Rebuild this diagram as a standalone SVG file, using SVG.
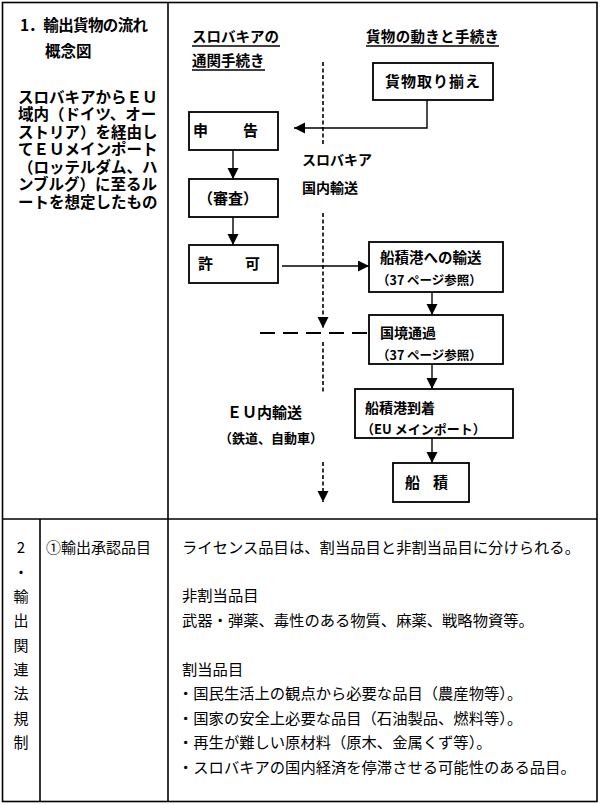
<svg xmlns="http://www.w3.org/2000/svg" width="600" height="805" viewBox="0 0 600 805">
<defs>
<marker id="ah" markerUnits="userSpaceOnUse" markerWidth="12" markerHeight="12" refX="11" refY="5.5" orient="auto">
<path d="M0,0 L11,5.5 L0,11 Z" fill="#000"/>
</marker>
</defs>
<style>
text{font-family:"Noto Sans CJK JP","Noto Sans",sans-serif;fill:#000}
.b{font-weight:bold}
.box{fill:#fff;stroke:#000;stroke-width:1.8}
.grid{fill:none;stroke:#000;stroke-width:1.6}
.con{fill:none;stroke:#000;stroke-width:1.4}
.dash{fill:none;stroke:#000;stroke-width:1.6;stroke-dasharray:4 2.5}
.ldash{fill:none;stroke:#000;stroke-width:1.8;stroke-dasharray:15 8}
.ul{stroke:#000;stroke-width:1.4}
</style>
<rect width="600" height="805" fill="#fff"/>
<g id="table">
<rect class="grid" x="2.5" y="2.5" width="594.5" height="799"/>
<line class="grid" x1="168" y1="2.5" x2="168" y2="801.5"/>
<line class="grid" x1="2.5" y1="519" x2="597" y2="519"/>
<line class="grid" x1="40" y1="519" x2="40" y2="801.5"/>
</g>
<g id="section1-title">
<text class="b" x="20" y="31" font-size="15.5" textLength="128" lengthAdjust="spacing">1．輸出貨物の流れ</text>
<text class="b" x="45" y="57" font-size="15.5">概念図</text>
</g>
<g id="section1-desc">
<text class="b" font-size="15.5"><tspan x="18" y="102.5">スロバキアからＥＵ</tspan><tspan x="18" y="120">域内（ドイツ、オー</tspan><tspan x="18" y="137.5">ストリア）を経由し</tspan><tspan x="18" y="155">てＥＵメインポート</tspan><tspan x="18" y="172.5">（ロッテルダム、ハ</tspan><tspan x="18" y="190">ンブルグ）に至るル</tspan><tspan x="18" y="207.5">ートを想定したもの</tspan></text>
</g>
<g id="headers">
<text class="b" x="192" y="42" font-size="14.5" textLength="87" lengthAdjust="spacing">スロバキアの</text>
<line class="ul" x1="192" y1="46" x2="280" y2="46"/>
<text class="b" x="192" y="66" font-size="14.5">通関手続き</text>
<line class="ul" x1="192" y1="70" x2="265" y2="70"/>
<text class="b" x="366" y="42" font-size="14.5" textLength="133" lengthAdjust="spacing">貨物の動きと手続き</text>
<line class="ul" x1="366" y1="46" x2="499" y2="46"/>
</g>
<g id="connectors">
<polyline class="con" points="427,100 427,128 294,128" marker-end="url(#ah)"/>
<line class="con" x1="233" y1="150" x2="233" y2="179" marker-end="url(#ah)"/>
<line class="con" x1="233" y1="217" x2="233" y2="245" marker-end="url(#ah)"/>
<line class="con" x1="282" y1="266" x2="369" y2="266" marker-end="url(#ah)"/>
<line class="con" x1="432" y1="292" x2="432" y2="315" marker-end="url(#ah)"/>
<line class="con" x1="432" y1="364" x2="432" y2="389" marker-end="url(#ah)"/>
<line class="con" x1="432" y1="438" x2="432" y2="463" marker-end="url(#ah)"/>
<line class="dash" x1="323" y1="62" x2="323" y2="145"/>
<line class="dash" x1="323" y1="213" x2="323" y2="328" marker-end="url(#ah)"/>
<line class="dash" x1="323" y1="342" x2="323" y2="393"/>
<line class="dash" x1="323" y1="462" x2="323" y2="502" marker-end="url(#ah)"/>
<line class="ldash" x1="260" y1="333" x2="369" y2="333"/>
</g>
<g id="node-cargo">
<rect class="box" x="373" y="63" width="120" height="37"/>
<text class="b" x="385" y="87" font-size="15" textLength="95" lengthAdjust="spacing">貨物取り揃え</text>
</g>
<g id="node-declare">
<rect class="box" x="189" y="112" width="89" height="38"/>
<text class="b" x="193" y="136" font-size="15">申</text>
<text class="b" x="243" y="136" font-size="15">告</text>
</g>
<g id="node-exam">
<rect class="box" x="189" y="179" width="89" height="38"/>
<text class="b" x="198" y="204" font-size="15">（審査）</text>
</g>
<g id="node-permit">
<rect class="box" x="189" y="245" width="89" height="38"/>
<text class="b" x="198" y="269" font-size="15">許</text>
<text class="b" x="245" y="269" font-size="15">可</text>
</g>
<g id="label-domestic">
<text class="b" x="302" y="165" font-size="14">スロバキア</text>
<text class="b" x="302" y="193" font-size="14">国内輸送</text>
</g>
<g id="node-toport">
<rect class="box" x="369" y="242" width="134" height="50"/>
<text class="b" x="380" y="263" font-size="14.5">船積港への輸送</text>
<text class="b" x="377" y="285" font-size="12.5">（37 ページ参照）</text>
</g>
<g id="node-border">
<rect class="box" x="369" y="315" width="134" height="49"/>
<text class="b" x="380" y="338" font-size="14">国境通過</text>
<text class="b" x="377" y="360" font-size="12.5">（37 ページ参照）</text>
</g>
<g id="label-eu">
<text class="b" x="227" y="418" font-size="15">ＥＵ内輸送</text>
<text class="b" x="219" y="443" font-size="13">（鉄道、自動車）</text>
</g>
<g id="node-arrive">
<rect class="box" x="355" y="389" width="158" height="49"/>
<text class="b" x="365" y="413" font-size="14">船積港到着</text>
<text class="b" x="361" y="434" font-size="13">（EU メインポート）</text>
</g>
<g id="node-load">
<rect class="box" x="393" y="463" width="76" height="39"/>
<text class="b" x="405" y="488" font-size="15">船</text>
<text class="b" x="433" y="488" font-size="15">積</text>
</g>
<g id="section2-label" font-size="15" text-anchor="middle">
<text x="21" y="553">2</text>
<text x="21" y="578">・</text>
<text x="21" y="602">輸</text>
<text x="21" y="626">出</text>
<text x="21" y="651">関</text>
<text x="21" y="675">連</text>
<text x="21" y="699">法</text>
<text x="21" y="724">規</text>
<text x="21" y="748">制</text>
</g>
<g id="section2-item">
<text x="46" y="553" font-size="15">①輸出承認品目</text>
</g>
<g id="section2-body" font-size="15.3">
<text x="182" y="553" textLength="398" lengthAdjust="spacing">ライセンス品目は、割当品目と非割当品目に分けられる。</text>
<text x="182" y="601">非割当品目</text>
<text x="182" y="626">武器・弾薬、毒性のある物質、麻薬、戦略物資等。</text>
<text x="182" y="675">割当品目</text>
<text x="178" y="699">・国民生活上の観点から必要な品目（農産物等）。</text>
<text x="178" y="724">・国家の安全上必要な品目（石油製品、燃料等）。</text>
<text x="178" y="748">・再生が難しい原材料（原木、金属くず等）。</text>
<text x="178" y="773">・スロバキアの国内経済を停滞させる可能性のある品目。</text>
</g>
</svg>
